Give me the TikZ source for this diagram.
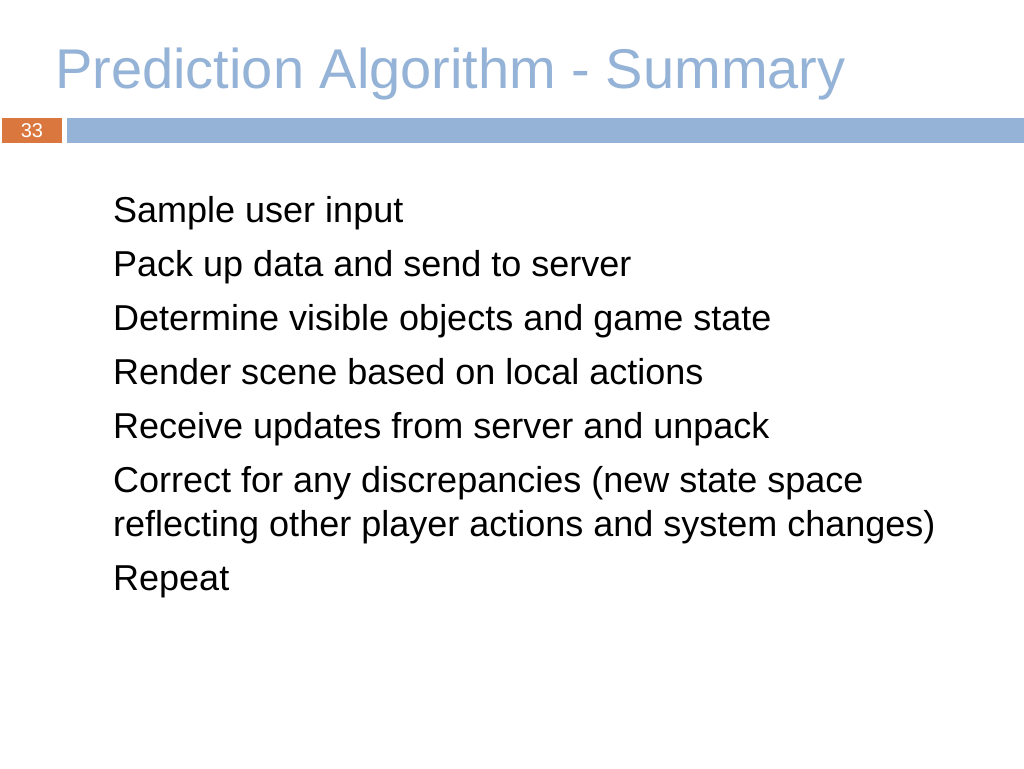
\documentclass[tikz,border=0pt]{standalone}
\usepackage{fontspec}
\setmainfont{Liberation Sans}
\definecolor{tblue}{HTML}{95B3D7}
\definecolor{torange}{HTML}{D9773F}
\begin{document}
\begin{tikzpicture}[x=1pt,y=-1pt,
  body/.style={anchor=base west,inner sep=0pt,font=\fontsize{36}{36}\selectfont}]
\useasboundingbox (0,0) rectangle (1024,768);
\fill[white] (0,0) rectangle (1024,768);
\node[anchor=base west,inner sep=0pt,text=tblue,font=\fontsize{56}{56}\selectfont] (title) at (55,88) {Prediction Algorithm - Summary};
\fill[torange] (2,118) rectangle (62,143);
\node[text=white,font=\fontsize{20}{20}\selectfont\addfontfeature{}] (num) at (32,131) {33};
\fill[tblue] (67,118) rectangle (1024,143);
\node[body] (l1) at (113,222) {Sample user input};
\node[body] (l2) at (113,276) {Pack up data and send to server};
\node[body] (l3) at (113,330) {Determine visible objects and game state};
\node[body] (l4) at (113,384) {Render scene based on local actions};
\node[body] (l5) at (113,438) {Receive updates from server and unpack};
\node[body] (l6) at (113,492) {Correct for any discrepancies (new state space};
\node[body] (l7) at (113,536) {reflecting other player actions and system changes)};
\node[body] (l8) at (113,590) {Repeat};
\end{tikzpicture}
\end{document}
